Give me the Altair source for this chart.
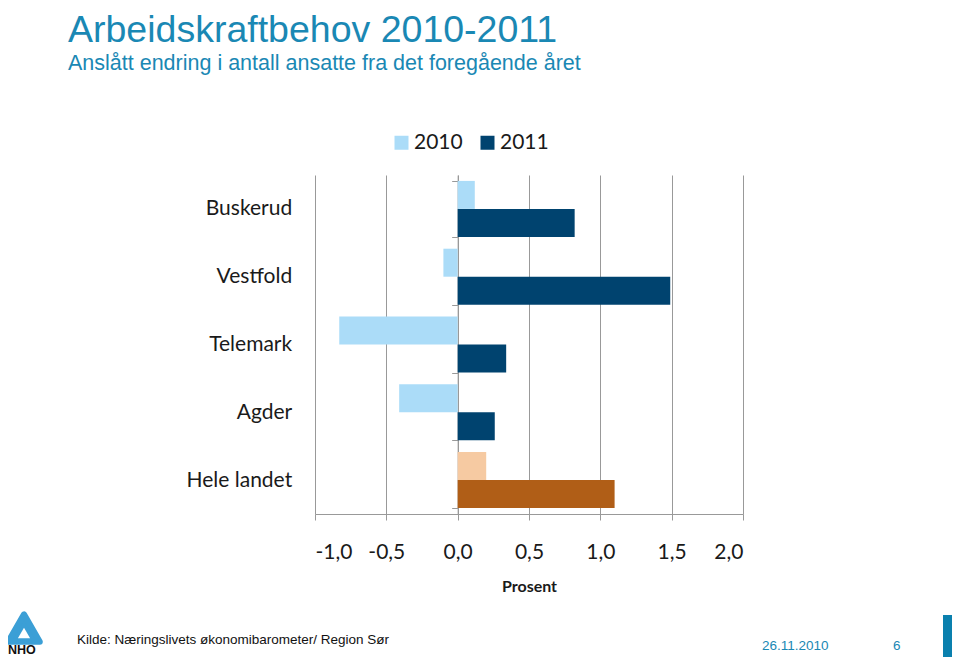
import altair as alt
import pandas as pd

# ---- data ----
regions = ["Buskerud", "Vestfold", "Telemark", "Agder", "Hele landet"]
years = ["2010", "2011"]
values_2010 = [0.12, -0.10, -0.83, -0.41, 0.20]
values_2011 = [0.82, 1.49, 0.34, 0.26, 1.10]
x_ticks = [-1.0, -0.5, 0.0, 0.5, 1.0, 1.5, 2.0]

title_text = "Arbeidskraftbehov 2010-2011"
subtitle_text = "Anslått endring i antall ansatte fra det foregående året"
source_text = "Kilde: Næringslivets økonomibarometer/ Region Sør"
date_text = "26.11.2010"
page_text = "6"
logo_text = "NHO"
x_title = "Prosent"

# ---- build table ----
rows = []
for region, v10, v11 in zip(regions, values_2010, values_2011):
    for year, v in (("2010", v10), ("2011", v11)):
        key = year if region != "Hele landet" else year + " Hele landet"
        rows.append({"region": region, "year": year, "key": key, "value": v})
df = pd.DataFrame(rows)

keys = ["2010", "2011", "2010 Hele landet", "2011 Hele landet"]
colors = ["#ABDCF8", "#00436F", "#F6CAA2", "#B05E17"]

W, H = 428, 339
GRAY = "#999999"
TEAL = "#1a88b4"

bars = alt.Chart(df).mark_bar().encode(
    x=alt.X(
        "value:Q",
        scale=alt.Scale(domain=[-1, 2], nice=False, zero=False),
        axis=alt.Axis(
            values=x_ticks,
            labelExpr="replace(replace(format(datum.value, '.1f'), '.', ','), '\u2212', '-')",
            title=x_title,
            grid=True,
            gridColor=GRAY,
            domainColor=GRAY,
            tickColor=GRAY,
            tickSize=6,
            labelFont="Lato",
            labelFontSize=21,
            labelColor="#1a1a1a",
            labelPadding=21,
            titleFont="Lato",
            titleFontSize=16,
            titleFontWeight="bold",
            titleColor="#1a1a1a",
            titlePadding=16,
        ),
    ),
    y=alt.Y(
        "region:N",
        sort=regions,
        scale=alt.Scale(paddingInner=0.174, paddingOuter=0.087),
        axis=alt.Axis(
            title=None,
            offset=-W / 3,
            tickBand="extent",
            domainColor=GRAY,
            tickColor=GRAY,
            tickSize=6,
            labelFont="Lato",
            labelFontSize=21,
            labelColor="#1a1a1a",
            labelPadding=160,
        ),
    ),
    yOffset=alt.YOffset("year:N", sort=years, scale=alt.Scale(paddingInner=0, paddingOuter=0)),
    color=alt.Color(
        "key:N",
        scale=alt.Scale(domain=keys, range=colors),
        legend=alt.Legend(
            values=years,
            orient="none",
            legendX=76,
            legendY=-43,
            direction="horizontal",
            title=None,
            symbolType="square",
            symbolSize=196,
            symbolStrokeWidth=0,
            labelFont="Lato",
            labelFontSize=21,
            labelColor="#1a1a1a",
            labelOffset=2,
            columnPadding=14,
            padding=0,
        ),
    ),
)


def label(text, x, y, size, color, font="Liberation Sans", weight="normal"):
    return alt.Chart(pd.DataFrame({"t": [text]})).mark_text(
        align="left", baseline="alphabetic", fontSize=size, font=font,
        color=color, fontWeight=weight
    ).encode(x=alt.value(x), y=alt.value(y), text="t:N")


one = pd.DataFrame({"a": [0]})
logo_outer = alt.Chart(one).mark_point(
    shape="triangle-up", filled=True, size=1000, color="#3b9fd6", opacity=1,
    stroke="#3b9fd6", strokeWidth=6, strokeJoin="round"
).encode(x=alt.value(-291), y=alt.value(453))
logo_inner = alt.Chart(one).mark_point(
    shape="triangle-up", filled=True, size=150, color="#ffffff", opacity=1
).encode(x=alt.value(-291), y=alt.value(458))
side_bar = alt.Chart(one).mark_rect(color="#0a80ae").encode(
    x=alt.value(628), x2=alt.value(637), y=alt.value(440), y2=alt.value(482)
)

chart = alt.layer(
    bars,
    label(title_text, -247, -133, 37.5, TEAL),
    label(subtitle_text, -247, -105, 21.5, TEAL),
    label(source_text, -238, 469, 13.5, "#111111"),
    label(date_text, 447, 475, 13.5, TEAL),
    label(page_text, 578, 475, 13.5, TEAL),
    label(logo_text, -307, 479, 12.5, "#111111", weight="bold"),
    logo_outer,
    logo_inner,
    side_bar,
).properties(
    width=W,
    height=H,
    padding={"left": 307, "top": 167, "right": 209, "bottom": 143},
    autosize=alt.AutoSizeParams(type="none"),
    background="white",
).configure_view(stroke=None)

chart.save("out.html", embed_options={"renderer": "svg", "actions": False})
